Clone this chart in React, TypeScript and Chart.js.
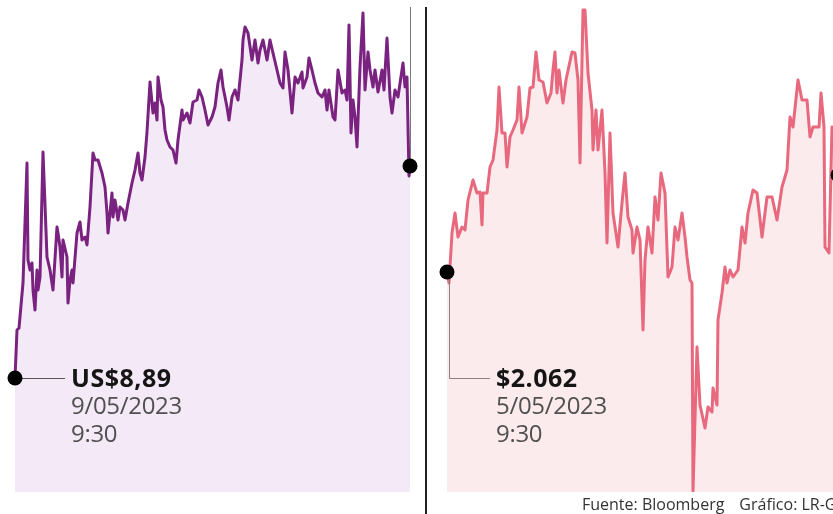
import React, { useEffect, useRef } from "react";
import { Chart, registerables } from "chart.js";

Chart.register(...registerables);

// Left panel: US$ share price (time step, price)
const leftSeries: [number, number][] = [
  [0, 8.89], [2, 9.37], [4, 9.39], [8, 9.84], [12, 11.04], [13, 10.07], [15, 9.97], [17, 10.04],
  [18, 9.77], [20, 9.57], [22, 9.97], [23, 9.77], [25, 9.9], [28, 11.15], [32, 10.1], [35, 9.97],
  [38, 9.77], [42, 10.4], [43, 10.34], [45, 10.2], [47, 9.9], [48, 10.27], [52, 10.1], [53, 9.64],
  [55, 9.87], [57, 9.97], [58, 9.84], [62, 10.34], [65, 10.45], [67, 10.27], [70, 10.3], [72, 10.22],
  [75, 10.6], [78, 11.14], [80, 11.07], [83, 11.07], [87, 10.94], [90, 10.8], [92, 10.54], [93, 10.34],
  [95, 10.54], [97, 10.74], [98, 10.5], [100, 10.67], [102, 10.54], [103, 10.47], [105, 10.6], [108, 10.57],
  [110, 10.47], [113, 10.64], [117, 10.84], [120, 10.97], [123, 11.14], [125, 10.94], [127, 10.87], [130, 11.1],
  [132, 11.35], [135, 11.85], [137, 11.64], [138, 11.54], [140, 11.64], [142, 11.47], [143, 11.9], [146, 11.67],
  [148, 11.6], [150, 11.37], [152, 11.27], [155, 11.2], [158, 11.17], [161, 11.04], [163, 11.27], [167, 11.57],
  [168, 11.47], [172, 11.54], [175, 11.44], [178, 11.65], [182, 11.67], [184, 11.77], [187, 11.7], [190, 11.57],
  [193, 11.42], [197, 11.5], [200, 11.6], [203, 11.84], [206, 11.97], [208, 11.8], [212, 11.6], [214, 11.47],
  [217, 11.7], [220, 11.77], [223, 11.67], [227, 12.07], [228, 12.27], [230, 12.4], [233, 12.34], [237, 12.07],
  [240, 12.27], [243, 12.04], [245, 12.17], [248, 12.27], [252, 12.07], [255, 12.27], [258, 12.14], [262, 11.97],
  [265, 11.84], [268, 11.79], [270, 12.15], [273, 11.97], [277, 11.54], [280, 11.9], [283, 11.84], [287, 11.95],
  [288, 11.79], [292, 11.9], [294, 12.09], [297, 11.97], [300, 11.84], [303, 11.74], [307, 11.7], [310, 11.77],
  [312, 11.57], [314, 11.77], [318, 11.5], [320, 11.47], [323, 11.97], [327, 11.74], [330, 11.77], [332, 11.67],
  [334, 12.42], [336, 11.34], [338, 11.67], [340, 11.5], [342, 11.2], [345, 12.0], [348, 12.54], [350, 11.77],
  [353, 12.15], [355, 11.97], [358, 11.8], [360, 11.97], [363, 11.75], [367, 11.97], [369, 11.77], [372, 12.29],
  [375, 11.7], [377, 11.54], [380, 11.77], [383, 11.7], [388, 12.04], [390, 11.8], [392, 11.9], [394, 10.91],
  [395, 11.01],
];

// Right panel: $ share price (time step, price)
const rightSeries: [number, number][] = [
  [1, 2062], [3, 2051], [6, 2101], [9, 2121], [12, 2097], [16, 2107], [19, 2104], [22, 2134], [27, 2154],
  [31, 2141], [34, 2142], [36, 2109], [37, 2141], [41, 2141], [44, 2167], [47, 2174], [51, 2204], [53, 2247],
  [56, 2201], [59, 2201], [61, 2167], [64, 2197], [67, 2204], [71, 2214], [73, 2247], [76, 2201], [81, 2217],
  [84, 2246], [87, 2247], [90, 2282], [93, 2254], [97, 2252], [101, 2231], [105, 2241], [107, 2264], [109, 2282],
  [111, 2241], [113, 2264], [117, 2231], [120, 2254], [126, 2282], [129, 2281], [132, 2254], [134, 2171],
  [137, 2324], [139, 2324], [142, 2261], [146, 2224], [147, 2184], [150, 2224], [152, 2184], [156, 2224],
  [159, 2161], [161, 2091], [164, 2201], [167, 2121], [172, 2087], [176, 2131], [179, 2161], [182, 2117],
  [186, 2104], [187, 2081], [191, 2107], [194, 2094], [197, 2004], [199, 2074], [202, 2107], [206, 2081],
  [209, 2137], [212, 2114], [215, 2161], [219, 2141], [222, 2057], [226, 2067], [229, 2107], [232, 2094],
  [236, 2121], [239, 2097], [241, 2077], [244, 2054], [246, 2051], [247, 1843], [251, 1987], [254, 1929],
  [259, 1906], [262, 1927], [266, 1922], [267, 1946], [271, 1929], [272, 2014], [276, 2041], [279, 2067],
  [281, 2051], [284, 2064], [287, 2057], [292, 2064], [296, 2107], [299, 2091], [302, 2121], [307, 2144],
  [311, 2141], [316, 2097], [321, 2137], [326, 2137], [331, 2114], [336, 2147], [341, 2164], [344, 2217],
  [347, 2207], [352, 2254], [356, 2234], [361, 2234], [364, 2197], [367, 2207], [373, 2207], [375, 2241],
  [378, 2207], [379, 2087], [383, 2081], [386, 2207], [392, 2159],
];

const leftLabel = ["US$8,89", "9/05/2023", "9:30"];
const rightLabel = ["$2.062", "5/05/2023", "9:30"];
const sourceText = "Fuente: Bloomberg";
const creditText = "Gráfico: LR-GR";

const PURPLE = "rgb(122, 34, 128)";
const PURPLE_FILL = "rgb(244, 233, 246)";
const PINK = "rgb(232, 104, 126)";
const PINK_FILL = "rgb(252, 235, 236)";

const annotations = {
  id: "annotations",
  afterDatasetsDraw(chart: any) {
    const ctx = chart.ctx;
    const L = chart.getDatasetMeta(0).data;
    const R = chart.getDatasetMeta(1).data;
    const lf = L[0], ll = L[L.length - 1];
    const rf = R[0], rl = R[R.length - 1];
    ctx.save();
    ctx.lineWidth = 1;
    // left end vertical guide
    ctx.strokeStyle = "#7a7a7a";
    ctx.beginPath();
    ctx.moveTo(Math.round(ll.x) + 0.5, 7);
    ctx.lineTo(Math.round(ll.x) + 0.5, ll.y);
    ctx.stroke();
    // left start connector
    ctx.strokeStyle = "#555";
    const ly = Math.round(lf.y) + 0.5;
    ctx.beginPath();
    ctx.moveTo(lf.x, ly);
    ctx.lineTo(lf.x + 50, ly);
    ctx.stroke();
    // right start connector
    ctx.strokeStyle = "#8c8080";
    const rx = Math.round(rf.x + 2) + 0.5;
    ctx.beginPath();
    ctx.moveTo(rx, rf.y);
    ctx.lineTo(rx, ly);
    ctx.lineTo(rf.x + 43, ly);
    ctx.stroke();
    // dots
    ctx.fillStyle = "#000";
    for (const p of [lf, ll, rf, rl]) {
      ctx.beginPath();
      ctx.arc(p.x, p.y, 7.5, 0, Math.PI * 2);
      ctx.fill();
    }
    ctx.restore();
  },
};

export default function App() {
  const ref = useRef<HTMLCanvasElement | null>(null);
  useEffect(() => {
    if (!ref.current) return;
    const chart = new Chart(ref.current, {
      type: "line",
      data: {
        datasets: [
          {
            data: leftSeries.map(([x, y]) => ({ x, y })),
            xAxisID: "xL",
            yAxisID: "yL",
            borderColor: PURPLE,
            backgroundColor: PURPLE_FILL,
            fill: "start",
            borderWidth: 3,
            pointRadius: 0,
            tension: 0,
            borderJoinStyle: "round",
          },
          {
            data: rightSeries.map(([x, y]) => ({ x, y })),
            xAxisID: "xR",
            yAxisID: "yR",
            borderColor: PINK,
            backgroundColor: PINK_FILL,
            fill: "start",
            borderWidth: 3,
            pointRadius: 0,
            tension: 0,
            borderJoinStyle: "round",
          },
        ] as any,
      },
      options: {
        animation: false,
        responsive: false,
        devicePixelRatio: 1,
        layout: { padding: { left: 0, right: 0, top: 0, bottom: 22 } },
        plugins: { legend: { display: false }, tooltip: { enabled: false } },
        events: [],
        scales: {
          xL: { type: "linear", display: false, min: -15, max: 818 },
          xR: { type: "linear", display: false, min: -446, max: 387 },
          yL: { type: "linear", display: false, min: 7.75, max: 12.67 },
          yR: { type: "linear", display: false, min: 1842, max: 2334 },
        },
      } as any,
      plugins: [annotations],
    });
    return () => chart.destroy();
  }, []);

  const labelBox = (left: number, lines: string[]) => (
    <div
      style={{
        position: "absolute",
        left,
        top: 363,
        fontSize: 24,
        lineHeight: "28px",
        color: "#505050",
        whiteSpace: "nowrap",
        letterSpacing: "-0.3px",
      }}
    >
      <div style={{ fontWeight: 700, color: "#151515", fontSize: 25, lineHeight: "28px", letterSpacing: "0.5px" }}>
        {lines[0]}
      </div>
      <div>{lines[1]}</div>
      <div>{lines[2]}</div>
    </div>
  );

  return (
    <div
      style={{
        position: "fixed",
        left: 0,
        top: 0,
        width: 833,
        height: 514,
        overflow: "hidden",
        background: "#fff",
        fontFamily: "'Open Sans', sans-serif",
      }}
    >
      <canvas ref={ref} width={833} height={514} style={{ position: "absolute", left: 0, top: 0, display: "block" }} />
      <div style={{ position: "absolute", left: 425, top: 7, width: 2, height: 507, background: "#222" }} />
      {labelBox(71, leftLabel)}
      {labelBox(496, rightLabel)}
      <div
        style={{
          position: "absolute",
          left: 582,
          top: 495,
          fontSize: 16,
          lineHeight: "18px",
          color: "#333",
          whiteSpace: "nowrap",
        }}
      >
        <span>{sourceText}</span>
        <span style={{ marginLeft: 15 }}>{creditText}</span>
      </div>
    </div>
  );
}
